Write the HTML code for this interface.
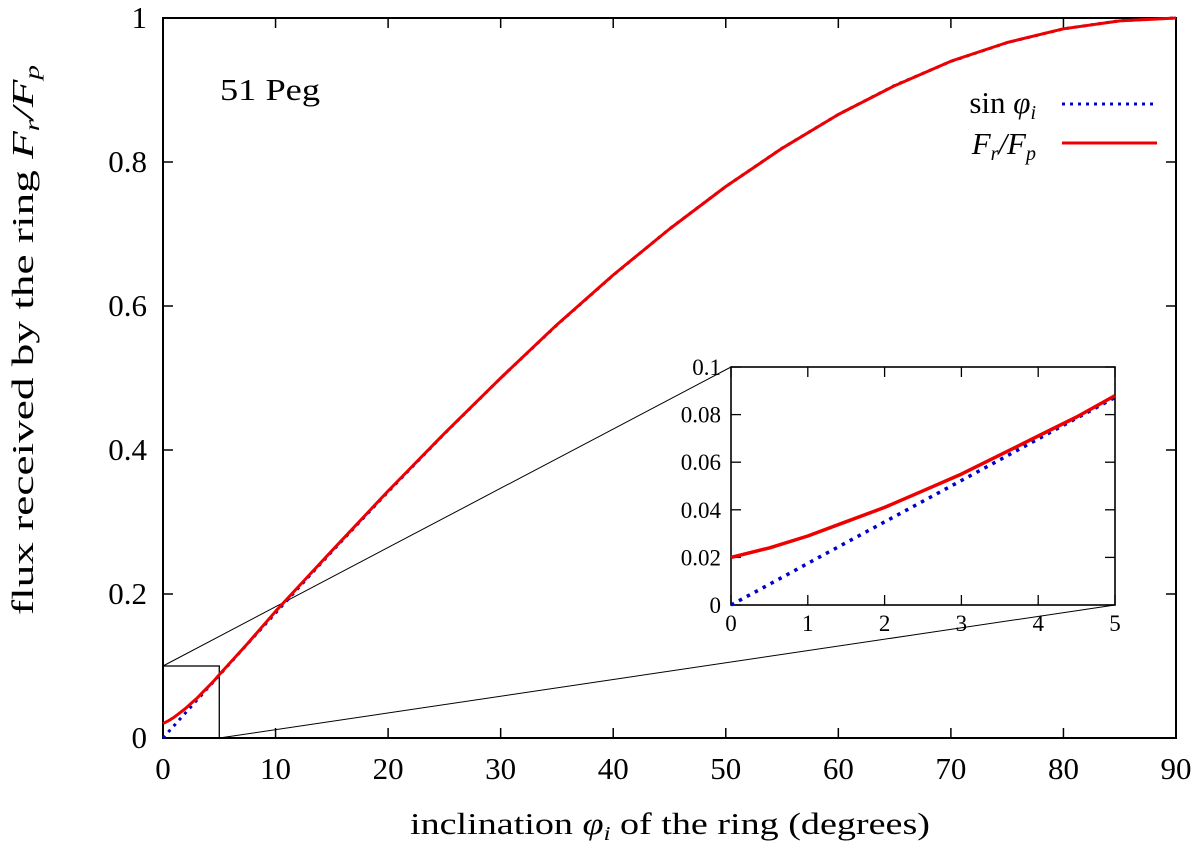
<!DOCTYPE html>
<html><head><meta charset="utf-8"><style>
body{margin:0;background:#fff}
svg text{font-family:"Liberation Serif",serif;fill:#000}
</style></head><body>
<svg id="c" width="1200" height="846"></svg>
<script>
const xTicks=[0,10,20,30,40,50,60,70,80,90];
const yTicks=[0,0.2,0.4,0.6,0.8,1];
const yTickLabels=["0","0.2","0.4","0.6","0.8","1"];
const insetXTicks=[0,1,2,3,4,5];
const insetYTicks=[0,0.02,0.04,0.06,0.08,0.1];
const insetYTickLabels=["0","0.02","0.04","0.06","0.08","0.1"];
const angles=[0,0.5,1,1.5,2,2.5,3,3.5,4,4.5,5,7.5,10,12.5,15,20,25,30,35,40,45,50,55,60,65,70,75,80,85,90];
const sinVals=[0,0.0087,0.0175,0.0262,0.0349,0.0436,0.0523,0.061,0.0698,0.0785,0.0872,0.1305,0.1736,0.2164,0.2588,0.342,0.4226,0.5,0.5736,0.6428,0.7071,0.766,0.8192,0.866,0.9063,0.9397,0.9659,0.9848,0.9962,1];
const ratioVals=[0.02,0.024,0.029,0.035,0.041,0.048,0.055,0.063,0.071,0.079,0.088,0.131,0.176,0.218,0.26,0.343,0.423,0.5,0.574,0.643,0.707,0.766,0.819,0.866,0.906,0.94,0.966,0.985,0.996,1];

const svg=document.getElementById('c');
const NS='http://www.w3.org/2000/svg';
function mk(tag,attrs,parent){const e=document.createElementNS(NS,tag);for(const k in attrs)e.setAttribute(k,attrs[k]);(parent||svg).appendChild(e);return e;}
const L=163,R=1176,T=18,B=738;
const sx=v=>L+(R-L)*v/90, sy=v=>B-(B-T)*v;
const iL=731,iR=1115,iT=367,iB=605;
const ix=v=>iL+(iR-iL)*v/5, iy=v=>iB-(iB-iT)*v/0.1;

let e;
e=mk('rect',{x:sx(0),y:sy(0.1),width:sx(5)-sx(0),height:sy(0)-sy(0.1),fill:'none',stroke:'#000','stroke-width':1.3});

e=mk('line',{x1:sx(0),y1:sy(0.1),x2:iL,y2:iT,stroke:'#000','stroke-width':1});

e=mk('line',{x1:sx(5),y1:sy(0),x2:iR,y2:iB,stroke:'#000','stroke-width':1});


e=mk('rect',{x:L,y:T,width:R-L,height:B-T,fill:'none',stroke:'#000','stroke-width':2});

xTicks.forEach(v=>{const x=sx(v);
 mk('line',{x1:x,y1:B,x2:x,y2:B-10,stroke:'#000','stroke-width':1.5});
 mk('line',{x1:x,y1:T,x2:x,y2:T+10,stroke:'#000','stroke-width':1.5});
 e=mk('text',{x:x,y:779,'font-size':31,'text-anchor':'middle'});e.textContent=v;
 });
yTicks.forEach((v,i)=>{const y=sy(v);
 mk('line',{x1:L,y1:y,x2:L+10,y2:y,stroke:'#000','stroke-width':1.5});
 mk('line',{x1:R,y1:y,x2:R-10,y2:y,stroke:'#000','stroke-width':1.5});
 e=mk('text',{x:147,y:y+10,'font-size':31,'text-anchor':'end'});e.textContent=yTickLabels[i];
 });

function path(fx,fy,xs,ys,filter){let d='';xs.forEach((a,i)=>{if(filter&&!filter(a))return;d+=(d?'L':'M')+fx(a).toFixed(1)+','+fy(ys[i]).toFixed(1);});return d;}
e=mk('path',{d:path(sx,sy,angles,sinVals),fill:'none',stroke:'#00c','stroke-width':3,'stroke-dasharray':'3,5','stroke-linejoin':'round'});

e=mk('path',{d:path(sx,sy,angles,ratioVals),fill:'none',stroke:'#e00','stroke-width':3,'stroke-linejoin':'round'});


const g=mk('g',{});
mk('rect',{x:iL,y:iT,width:iR-iL,height:iB-iT,fill:'#fff',stroke:'#000','stroke-width':1.6},g);
insetXTicks.forEach(v=>{const x=ix(v);
 mk('line',{x1:x,y1:iB,x2:x,y2:iB-10,stroke:'#000','stroke-width':1.3},g);
 mk('line',{x1:x,y1:iT,x2:x,y2:iT+10,stroke:'#000','stroke-width':1.3},g);
 e=mk('text',{x:x,y:iB+26,'font-size':23,'text-anchor':'middle'},g);e.textContent=v;
 });
insetYTicks.forEach((v,i)=>{const y=iy(v);
 mk('line',{x1:iL,y1:y,x2:iL+10,y2:y,stroke:'#000','stroke-width':1.3},g);
 mk('line',{x1:iR,y1:y,x2:iR-10,y2:y,stroke:'#000','stroke-width':1.3},g);
 e=mk('text',{x:iL-10,y:y+8,'font-size':23,'text-anchor':'end'},g);e.textContent=insetYTickLabels[i];
 });
const inF=a=>a<=5;
e=mk('path',{d:path(ix,iy,angles,sinVals,inF),fill:'none',stroke:'#00c','stroke-width':3.5,'stroke-dasharray':'3.5,5.5'},g);

e=mk('path',{d:path(ix,iy,angles,ratioVals,inF),fill:'none',stroke:'#e00','stroke-width':3.5,'stroke-linejoin':'round'},g);

</script>
<svg width="1200" height="846" style="position:absolute;left:0;top:0">
<text x="220" y="100" font-size="31" textLength="100" lengthAdjust="spacingAndGlyphs">51 Peg</text>
<text x="1036" y="113" font-size="31" text-anchor="end">sin <tspan font-style="italic">φ</tspan><tspan font-style="italic" font-size="20" dy="6">i</tspan></text>
<line x1="1062" y1="104" x2="1157" y2="104" stroke="#00c" stroke-width="3" stroke-dasharray="3,5"/>
<text x="1036" y="154" font-size="31" text-anchor="end" font-style="italic">F<tspan font-size="20" dy="6">r</tspan><tspan dy="-6">/F</tspan><tspan font-size="20" dy="6">p</tspan></text>
<line x1="1062" y1="143" x2="1157" y2="143" stroke="#e00" stroke-width="3"/>
<text x="410" y="834" font-size="31" textLength="520" lengthAdjust="spacingAndGlyphs">inclination <tspan font-style="italic">φ</tspan><tspan font-style="italic" font-size="20" dy="6">i</tspan><tspan dy="-6"> of the ring (degrees)</tspan></text>
<text transform="translate(33,615) rotate(-90)" font-size="31" textLength="550" lengthAdjust="spacingAndGlyphs">flux received by the ring <tspan font-style="italic">F</tspan><tspan font-style="italic" font-size="20" dy="6">r</tspan><tspan font-style="italic" dy="-6">/F</tspan><tspan font-style="italic" font-size="20" dy="6">p</tspan></text>
</svg>
</body></html>
